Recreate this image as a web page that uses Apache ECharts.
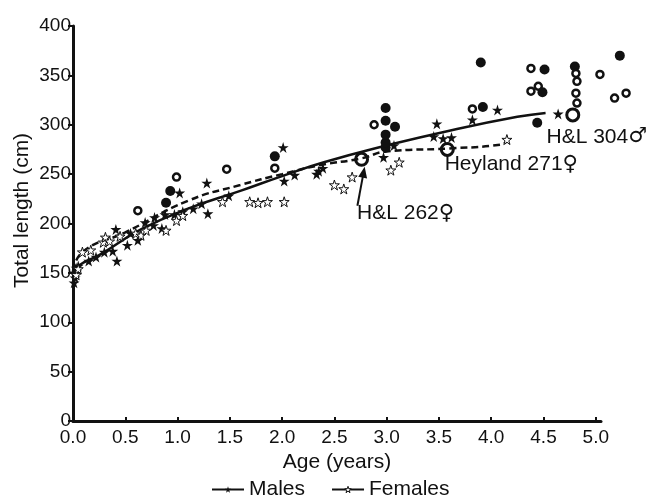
<!DOCTYPE html>
<html>
<head>
<meta charset="utf-8">
<script src="https://cdn.jsdelivr.net/npm/echarts@6/dist/echarts.min.js"></script>
<style>
html, body { margin: 0; padding: 0; background: #fff; }
#chart { width: 649px; height: 503px; }
</style>
</head>
<body>
<div id="chart"></div>
<script>
// fitted growth curves
const maleCurve = [[0, 148], [0.05, 157], [0.25, 168], [0.65, 194], [1.1, 215], [1.6, 233], [2.0, 248], [2.4, 262], [3.0, 279], [3.6, 294], [4.25, 308], [4.52, 312]];
const femaleCurve = [[0, 152], [0.1, 172], [0.5, 191], [1.1, 223], [1.6, 239], [2.0, 250], [2.36, 259], [2.76, 266], [3.0, 273], [3.6, 276], [4.1, 280], [4.15, 284]];

// age (years), length (cm)
const maleStars = [[0.01, 140], [0.02, 145], [0.02, 150], [0.03, 155], [0.05, 157], [0.15, 162], [0.22, 166], [0.3, 171], [0.38, 172], [0.42, 162], [0.41, 194], [0.52, 178], [0.55, 190], [0.62, 183], [0.69, 201], [0.77, 198], [0.78, 206], [0.85, 195], [0.88, 209], [0.97, 209], [1.02, 231], [1.05, 212], [1.15, 215], [1.23, 220], [1.28, 241], [1.29, 210], [1.49, 228], [2.01, 277], [2.02, 243], [2.12, 249], [2.33, 250], [2.35, 253], [2.39, 256], [2.97, 267], [3.07, 279], [3.45, 288], [3.48, 301], [3.54, 286], [3.62, 287], [3.82, 305], [4.06, 315], [4.64, 311]];
const femaleStars = [[0.03, 148], [0.05, 154], [0.09, 171], [0.17, 173], [0.29, 181], [0.31, 186], [0.35, 182], [0.45, 187], [0.6, 190], [0.65, 188], [0.7, 193], [0.89, 193], [0.99, 203], [1.05, 208], [1.43, 222], [1.69, 222], [1.77, 221], [1.86, 222], [2.02, 222], [2.5, 239], [2.59, 235], [2.67, 247], [3.04, 254], [3.12, 262], [4.15, 285]];
const filledDots = [[0.89, 221], [0.93, 233], [1.93, 268], [2.99, 277], [2.99, 282], [2.99, 290], [2.99, 304], [2.99, 317], [3.08, 298], [3.9, 363], [3.92, 318], [4.44, 302], [4.49, 333], [4.51, 356], [4.8, 359], [5.23, 370]];
const openDots = [[0.62, 213], [0.99, 247], [1.47, 255], [1.93, 256], [2.88, 300], [3.82, 316], [4.38, 357], [4.38, 334], [4.45, 339], [4.81, 352], [4.82, 344], [4.81, 332], [4.82, 322], [5.04, 351], [5.18, 327], [5.29, 332]];

// single animals with names
const namedAnimals = ['H&L 262', 'Heyland 271', 'H&L 304'];
const namedSex = ['♀', '♀', '♂'];
const namedAges = [2.76, 3.58, 4.78];
const namedLengths = [265, 275, 310];

const xTicks = [0, 0.5, 1, 1.5, 2, 2.5, 3, 3.5, 4, 4.5, 5];

const font = 'Liberation Sans, Arial, sans-serif';
const ink = '#111';
const star = 'path://M50,0 L61.2,34.5 L97.6,34.5 L68.2,55.9 L79.4,90.5 L50,69.1 L20.6,90.5 L31.8,55.9 L2.4,34.5 L38.8,34.5 Z';
const labelOffsets = [[44, 54], [64, 15], [24, 22]];

const chart = echarts.init(document.getElementById('chart'));
chart.setOption({
	animation: false,
	textStyle: { fontFamily: font, color: ink },
	grid: { left: 73, right: 48, top: 26, bottom: 82 },
	legend: {
		bottom: 3,
		left: 211,
		padding: 0,
		itemWidth: 32,
		itemHeight: 8,
		itemGap: 26,
		textStyle: { fontSize: 21, color: ink, fontFamily: font },
		data: [
			{ name: 'Males' },
			{ name: 'Females', lineStyle: { type: 'solid' }, itemStyle: { color: '#fff', borderColor: ink, borderWidth: 1 } }
		]
	},
	xAxis: {
		type: 'value',
		min: 0,
		max: 5.05,
		name: 'Age (years)',
		nameLocation: 'middle',
		nameGap: 31,
		nameTextStyle: { fontSize: 21, color: ink },
		splitLine: { show: false },
		axisLine: { lineStyle: { color: ink, width: 3 } },
		axisTick: { inside: true, length: 4, customValues: xTicks, lineStyle: { color: ink, width: 2 } },
		axisLabel: {
			customValues: xTicks,
			fontSize: 19,
			color: ink,
			margin: 7,
			formatter: (v) => v.toFixed(1)
		}
	},
	yAxis: {
		type: 'value',
		min: 0,
		max: 400,
		interval: 50,
		name: 'Total length (cm)',
		nameLocation: 'middle',
		nameGap: 40,
		nameMoveOverlap: false,
		nameTextStyle: { fontSize: 21, color: ink, padding: [0, 0, 0, 26] },
		splitLine: { show: false },
		axisLine: { show: true, lineStyle: { color: ink, width: 3 } },
		axisTick: { show: true, length: 5, lineStyle: { color: ink, width: 2 } },
		axisLabel: { fontSize: 19, color: ink, margin: 2 }
	},
	series: [
		{
			name: 'Males',
			type: 'line',
			smooth: true,
			showSymbol: false,
			symbol: star,
			symbolSize: 11,
			itemStyle: { color: ink },
			lineStyle: { color: ink, width: 2.5 },
			data: maleCurve,
			z: 3
		},
		{
			name: 'Females',
			type: 'line',
			smooth: true,
			showSymbol: false,
			symbol: star,
			symbolSize: 11,
			itemStyle: { color: '#fff', borderColor: ink, borderWidth: 1 },
			lineStyle: { color: ink, width: 2.5, type: [7, 4] },
			data: femaleCurve,
			z: 3
		},
		{
			name: 'male points',
			type: 'scatter',
			symbol: star,
			symbolSize: 11,
			clip: false,
			itemStyle: { color: ink, opacity: 1 },
			data: maleStars,
			z: 4
		},
		{
			name: 'female points',
			type: 'scatter',
			symbol: star,
			symbolSize: 10,
			clip: false,
			itemStyle: { color: '#fff', borderColor: ink, borderWidth: 1, opacity: 1 },
			data: femaleStars,
			z: 4
		},
		{
			name: 'filled circles',
			type: 'scatter',
			symbol: 'circle',
			symbolSize: 10,
			clip: false,
			itemStyle: { color: ink, opacity: 1 },
			data: filledDots,
			z: 4
		},
		{
			name: 'open circles',
			type: 'scatter',
			symbol: 'circle',
			symbolSize: 7,
			clip: false,
			itemStyle: { color: '#fff', borderColor: ink, borderWidth: 2.5, opacity: 1 },
			data: openDots,
			z: 4
		},
		{
			name: 'named',
			type: 'scatter',
			symbol: 'circle',
			symbolSize: 12,
			clip: false,
			itemStyle: { color: 'rgba(255,255,255,0)', borderColor: ink, borderWidth: 3, opacity: 1 },
			label: {
				show: true,
				position: 'inside',
				formatter: (p) => p.name + '{s|' + namedSex[p.dataIndex] + '}',
				fontSize: 21,
				color: ink,
				fontFamily: font,
				rich: {
					s: { fontSize: 21, fontFamily: 'DejaVu Sans', fontWeight: 'bold', color: ink }
				}
			},
			data: namedAnimals.map((n, i) => ({
				name: n,
				value: [namedAges[i], namedLengths[i]],
				label: { offset: labelOffsets[i] }
			})),
			markLine: {
				silent: true,
				symbol: ['none', 'triangle'],
				symbolSize: [9, 11],
				label: { show: false },
				lineStyle: { color: ink, width: 2, type: 'solid', curveness: 0.25 },
				data: [[{ coord: [2.72, 218] }, { coord: [2.78, 252] }]]
			},
			z: 5
		}
	]
});
</script>
</body>
</html>
